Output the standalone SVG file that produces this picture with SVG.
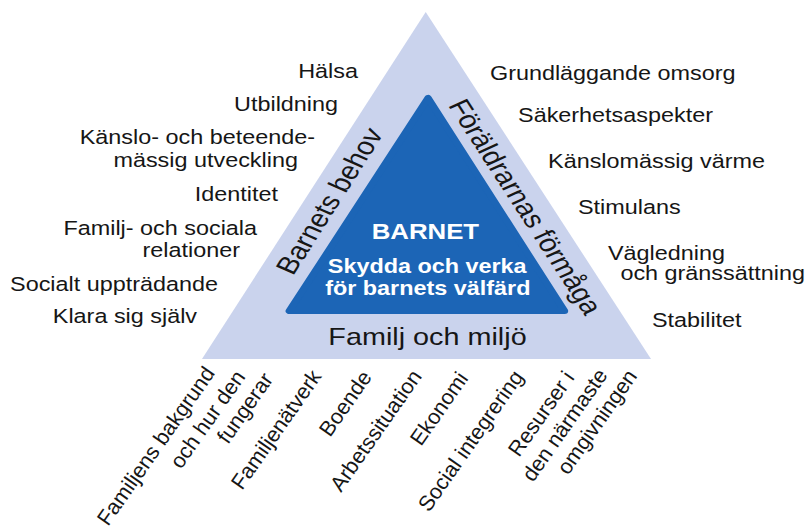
<svg xmlns="http://www.w3.org/2000/svg" width="807" height="529" viewBox="0 0 807 529">
<style>
text{font-family:"Liberation Sans",Arial,Helvetica,sans-serif;fill:#161616}
.s{font-size:19.5px}
.side{font-size:25px}
.b{font-size:21.5px}
.w{fill:#ffffff;font-weight:bold}
.end{text-anchor:end}
.mid{text-anchor:middle}
</style>
<rect x="0" y="0" width="807" height="529" fill="#ffffff"/>
<g transform="scale(1.2 1)">
  <g id="outer-triangle">
    <polygon points="354.75,12 168.3,359 542.5,359" fill="#cad3ed"/>
  </g>
  <g id="inner-triangle">
    <polygon points="356.7,98 241,311 470.5,311" fill="#1c65b6" stroke="#1c65b6" stroke-width="6" stroke-linejoin="round"/>
    <text class="w mid" x="354.5" y="239" style="font-size:21.5px">BARNET</text>
    <text class="w mid" x="356" y="273" style="font-size:19.5px">Skydda och verka</text>
    <text class="w mid" x="356.5" y="295" style="font-size:19.5px">för barnets välfärd</text>
  </g>
  <g id="side-barnets-behov">
    <text class="side mid" x="282" y="205" transform="rotate(-62 282 205)">Barnets behov</text>
  </g>
  <g id="side-foraldrarnas-formaga">
    <text class="side mid" x="430.4" y="210.8" transform="rotate(61.5 430.4 210.8)">Föräldrarnas förmåga</text>
  </g>
  <g id="side-familj-och-miljo">
    <text class="mid" x="356.25" y="345" style="font-size:24px">Familj och miljö</text>
  </g>
  <g id="barnets-behov-list">
    <text class="s end" x="298.3" y="78">Hälsa</text>
    <text class="s end" x="281.7" y="111">Utbildning</text>
    <text class="s end" x="262.5" y="144">Känslo- och beteende-</text>
    <text class="s end" x="248.3" y="167">mässig utveckling</text>
    <text class="s end" x="231.7" y="201">Identitet</text>
    <text class="s end" x="214.2" y="235">Familj- och sociala</text>
    <text class="s end" x="200" y="257">relationer</text>
    <text class="s end" x="181.7" y="291">Socialt uppträdande</text>
    <text class="s end" x="164.2" y="323">Klara sig själv</text>
  </g>
  <g id="foraldrarnas-formaga-list">
    <text class="s" x="408.3" y="80">Grundläggande omsorg</text>
    <text class="s" x="431.7" y="122">Säkerhetsaspekter</text>
    <text class="s" x="456.7" y="168">Känslomässig värme</text>
    <text class="s" x="481.7" y="214">Stimulans</text>
    <text class="s" x="506.7" y="260">Vägledning</text>
    <text class="s" x="517" y="280">och gränssättning</text>
    <text class="s" x="543.3" y="327">Stabilitet</text>
  </g>
</g>
<g id="familj-och-miljo-list">
  <text class="b" x="108" y="527" transform="rotate(-55 108 527)">Familjens bakgrund</text>
  <text class="b" x="181" y="470" transform="rotate(-55 181 470)">och hur den</text>
  <text class="b" x="228" y="445" transform="rotate(-55 228 445)">fungerar</text>
  <text class="b" x="242" y="491" transform="rotate(-55 242 491)">Familjenätverk</text>
  <text class="b" x="330" y="438" transform="rotate(-55 330 438)">Boende</text>
  <text class="b" x="341" y="493" transform="rotate(-55 341 493)">Arbetssituation</text>
  <text class="b" x="421" y="447" transform="rotate(-55 421 447)">Ekonomi</text>
  <text class="b" x="429" y="513" transform="rotate(-55 429 513)">Social integrering</text>
  <text class="b" x="519" y="458" transform="rotate(-55 519 458)">Resurser i</text>
  <text class="b" x="533" y="483" transform="rotate(-55 533 483)">den närmaste</text>
  <text class="b" x="568" y="476" transform="rotate(-55 568 476)">omgivningen</text>
</g>
</svg>
